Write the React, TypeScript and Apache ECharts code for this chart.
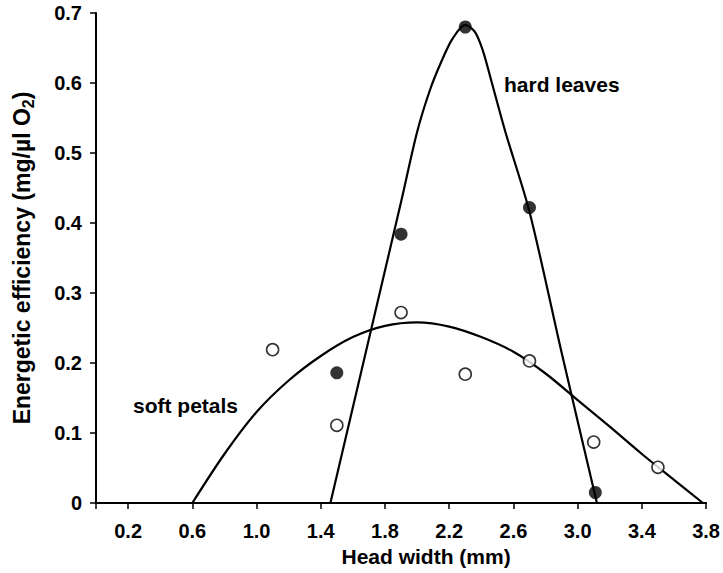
import React, { useEffect, useRef } from "react";
import * as echarts from "echarts";

// ---- data ----
const xTickValues = [0.2, 0.6, 1.0, 1.4, 1.8, 2.2, 2.6, 3.0, 3.4, 3.8];

const hardPointsX = [1.5, 1.9, 2.3, 2.7, 3.11];
const hardPointsY = [0.186, 0.384, 0.68, 0.422, 0.015];

const softPointsX = [1.1, 1.5, 1.9, 2.3, 2.7, 3.1, 3.5];
const softPointsY = [0.219, 0.111, 0.272, 0.184, 0.203, 0.087, 0.051];

const hardCurveX = [1.46, 1.9, 2.0, 2.08, 2.15, 2.22, 2.3, 2.36, 2.41, 2.46, 2.55, 2.7, 2.9, 3.12];
const hardCurveY = [0, 0.43, 0.53, 0.59, 0.63, 0.663, 0.683, 0.673, 0.646, 0.605, 0.53, 0.416, 0.215, 0];

const softCurveX = [0.6, 0.8, 1.0, 1.2, 1.4, 1.6, 1.8, 2.0, 2.2, 2.4, 2.6, 2.8, 3.0, 3.2, 3.4, 3.6, 3.78];
const softCurveY = [0, 0.07, 0.13, 0.175, 0.21, 0.237, 0.253, 0.258, 0.252, 0.237, 0.216, 0.185, 0.147, 0.109, 0.07, 0.033, 0];

const zip = (xs: number[], ys: number[]) => xs.map((x, i) => [x, ys[i]]);

const FONT = '"Liberation Sans", Arial, Helvetica, sans-serif';

export default function App() {
  const ref = useRef<HTMLDivElement>(null);

  useEffect(() => {
    document.body.style.margin = "0";
    if (!ref.current) return;
    const chart = echarts.init(ref.current, undefined, { renderer: "svg" });
    chart.setOption({
      animation: false,
      backgroundColor: "#fff",
      grid: { left: 88, right: 16, top: 13, bottom: 70, containLabel: false },
      xAxis: {
        type: "value",
        min: 0,
        max: 3.8,
        name: "Head width (mm)",
        nameLocation: "middle",
        nameGap: 42,
        nameTextStyle: {
          fontFamily: FONT,
          fontSize: 21,
          fontWeight: "bold",
          color: "#000",
          padding: [0, 0, 0, 50],
        },
        axisLine: { show: true, lineStyle: { color: "#000", width: 2 } },
        axisTick: {
          show: true,
          customValues: [0, ...xTickValues],
          length: 6,
          lineStyle: { color: "#000", width: 1.5 },
        },
        axisLabel: {
          customValues: xTickValues,
          formatter: (v: number) => v.toFixed(1),
          margin: 18,
          fontFamily: FONT,
          fontSize: 20,
          fontWeight: "bold",
          color: "#000",
        },
        splitLine: { show: false },
      },
      yAxis: {
        type: "value",
        min: 0,
        max: 0.7,
        interval: 0.1,
        name: "Energetic efficiency (mg/µl O{s|2})",
        nameLocation: "middle",
        nameRotate: 90,
        nameGap: 60,
        nameTextStyle: {
          fontFamily: FONT,
          fontSize: 23,
          fontWeight: "bold",
          color: "#000",
          lineHeight: 28,
          rich: {
            s: {
              fontFamily: FONT,
              fontSize: 16,
              fontWeight: "bold",
              color: "#000",
              lineHeight: 16,
              verticalAlign: "bottom",
            },
          },
        },
        axisLine: { show: true, lineStyle: { color: "#000", width: 2 } },
        axisTick: { show: true, length: 6, lineStyle: { color: "#000", width: 1.5 } },
        axisLabel: {
          formatter: (v: number) => (Math.abs(v) < 1e-9 ? "0" : v.toFixed(1)),
          margin: 14,
          fontFamily: FONT,
          fontSize: 20,
          fontWeight: "bold",
          color: "#000",
        },
        splitLine: { show: false },
      },
      graphic: [
        {
          type: "text",
          x: 504,
          y: 84,
          style: {
            text: "hard leaves",
            fill: "#000",
            font: `bold 21px ${FONT}`,
            align: "left",
            verticalAlign: "middle",
          },
        },
        {
          type: "text",
          x: 133,
          y: 405,
          style: {
            text: "soft petals",
            fill: "#000",
            font: `bold 21px ${FONT}`,
            align: "left",
            verticalAlign: "middle",
          },
        },
      ],
      series: [
        {
          name: "soft petals curve",
          type: "line",
          data: zip(softCurveX, softCurveY),
          smooth: 0.3,
          showSymbol: false,
          lineStyle: { color: "#000", width: 2.2 },
          z: 2,
        },
        {
          name: "hard leaves curve",
          type: "line",
          data: zip(hardCurveX, hardCurveY),
          smooth: 0.3,
          showSymbol: false,
          lineStyle: { color: "#000", width: 2.2 },
          z: 2,
        },
        {
          name: "soft petals",
          type: "scatter",
          data: zip(softPointsX, softPointsY),
          symbol: "circle",
          symbolSize: 12,
          itemStyle: { color: "#fff", borderColor: "#000", borderWidth: 1.6 },
          z: 3,
        },
        {
          name: "hard leaves",
          type: "scatter",
          data: zip(hardPointsX, hardPointsY),
          symbol: "circle",
          symbolSize: 13,
          itemStyle: { color: "#000" },
          z: 3,
        },
      ],
    });
    return () => chart.dispose();
  }, []);

  return (
    <div
      ref={ref}
      style={{ position: "absolute", left: 0, top: 0, width: 723, height: 573 }}
    />
  );
}
